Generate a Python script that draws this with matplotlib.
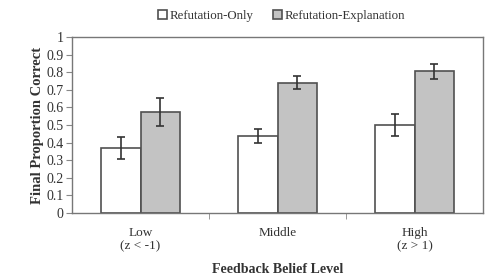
import numpy as np
import matplotlib.pyplot as plt

plt.rcParams['font.family'] = ['Liberation Serif', 'DejaVu Serif']

levels = ['Low\n(z < -1)', 'Middle', 'High\n(z > 1)']
only = [0.37, 0.44, 0.50]
only_err = [0.064, 0.040, 0.060]
expl = [0.574, 0.741, 0.804]
expl_err = [0.078, 0.038, 0.041]

x = np.arange(len(levels))
w = 0.29

fig = plt.figure(figsize=(4.9, 2.76), dpi=100)
ax = fig.add_axes([72 / 490, 1 - 213 / 276, 411 / 490, 176 / 276])

err_kw = dict(ecolor='#333333', elinewidth=1.2, capsize=3, capthick=1.2)
ax.bar(x - w / 2, only, w, yerr=only_err, color='white', edgecolor='#505050',
       linewidth=1.2, label='Refutation-Only', error_kw=err_kw)
ax.bar(x + w / 2, expl, w, yerr=expl_err, color='#c3c3c3', edgecolor='#505050',
       linewidth=1.2, label='Refutation-Explanation', error_kw=err_kw)

ax.set_xlim(-0.5, 2.5)
ax.set_ylim(0, 1)
ax.set_yticks(np.arange(0, 1.01, 0.1))
ax.set_yticklabels(['0', '0.1', '0.2', '0.3', '0.4', '0.5', '0.6', '0.7', '0.8', '0.9', '1'])
ax.set_xticks(x)
ax.set_xticklabels(levels, fontsize=9.5, color='#333333', linespacing=1.15)
ax.set_xticks([0.5, 1.5], minor=True)
ax.tick_params(axis='x', which='major', length=0, pad=10)
ax.tick_params(axis='x', which='minor', length=4, color='#888888')
ax.tick_params(axis='y', length=4, color='#888888', labelsize=10, labelcolor='#333333', pad=2)
for s in ax.spines.values():
    s.set_color('#777777')
    s.set_linewidth(1.0)

ax.set_ylabel('Final Proportion Correct', fontsize=10.5, fontweight='bold', color='#333333', labelpad=2)
ax.set_xlabel('Feedback Belief Level', fontsize=10, fontweight='bold', color='#333333', labelpad=8)

ax.legend(loc='lower center', bbox_to_anchor=(0.51, 1.02), ncol=2, frameon=False,
          fontsize=9.3, handlelength=0.7, handleheight=0.7, handletextpad=0.2,
          columnspacing=1.5, labelcolor='#333333')

fig.savefig('out.png', dpi=100)
